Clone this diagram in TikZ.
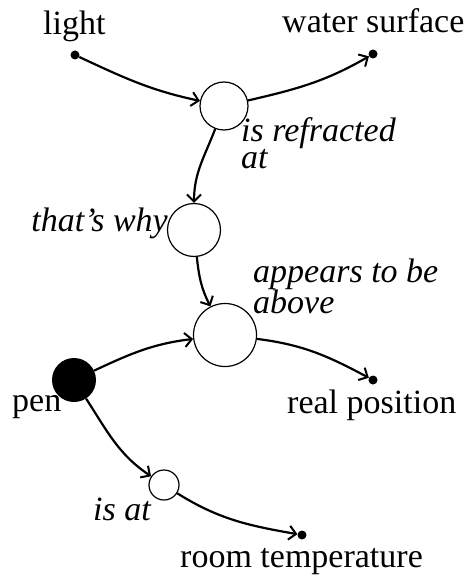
\documentclass[tikz,border=0pt]{standalone}
\usepackage{fontspec}
\setmainfont{Liberation Serif}[ItalicFont={Liberation Serif Italic}]
\usetikzlibrary{arrows.meta}
\begin{document}
\begin{tikzpicture}[x=1pt,y=-1pt,
  lbl/.style={inner sep=0pt,anchor=base west,font=\fontsize{34}{38}\selectfont},
  rel/.style={inner sep=0pt,anchor=base west,font=\fontsize{34}{38}\selectfont\itshape},
  conc/.style={circle,fill=black,inner sep=0pt,minimum size=9pt},
  relc/.style={circle,draw,line width=1.2pt,inner sep=0pt,fill=white},
  link/.style={line width=2.2pt,-{Straight Barb[length=7pt,width=14pt,line width=2pt]}},
]
\useasboundingbox (0,0) rectangle (468,575);
% concepts
\node[conc] (light) at (75,55) {};
\node[lbl] (lightT) at (43,35) {light};
\node[conc] (water) at (373,54) {};
\node[lbl] (waterT) at (282,33) {water surface};
\node[conc,minimum size=44pt] (pen) at (74,380) {};
\node[lbl] (penT) at (12,411) {pen};
\node[conc] (real) at (373,380) {};
\node[lbl] (realT) at (287,413) {real position};
\node[conc] (room) at (302,535) {};
\node[lbl] (roomT) at (180,567) {room temperature};
% relations
\node[relc,minimum size=48pt] (r1) at (224,106) {};
\node[rel,align=left,font=\fontsize{34}{27}\selectfont\itshape] (r1T) at (241,168) {is refracted\\at};
\node[relc,minimum size=53pt] (r2) at (194,230) {};
\node[rel,anchor=base east] (r2T) at (168,231) {that's why};
\node[relc,minimum size=63pt] (r3) at (225,335) {};
\node[rel,align=left,font=\fontsize{34}{31}\selectfont\itshape] (r3T) at (253,313) {appears to be\\above};
\node[relc,minimum size=30pt] (r4) at (164,485) {};
\node[rel] (r4T) at (93,520) {is at};
% links
\draw[link] (light) to[out=-25,in=168] (r1);
\draw[link] (r1) to[out=13,in=210] (water);
\draw[link] (r1) to[out=-111,in=90] (r2);
\draw[link] (r2) to[out=-84,in=117] (r3);
\draw[link] (pen) to[out=25,in=187] (r3);
\draw[link] (r3) to[out=-7,in=152] (real);
\draw[link] (pen) to[out=-57,in=146] (r4);
\draw[link] (r4) to[out=-32,in=170] (room);
\end{tikzpicture}
\end{document}
